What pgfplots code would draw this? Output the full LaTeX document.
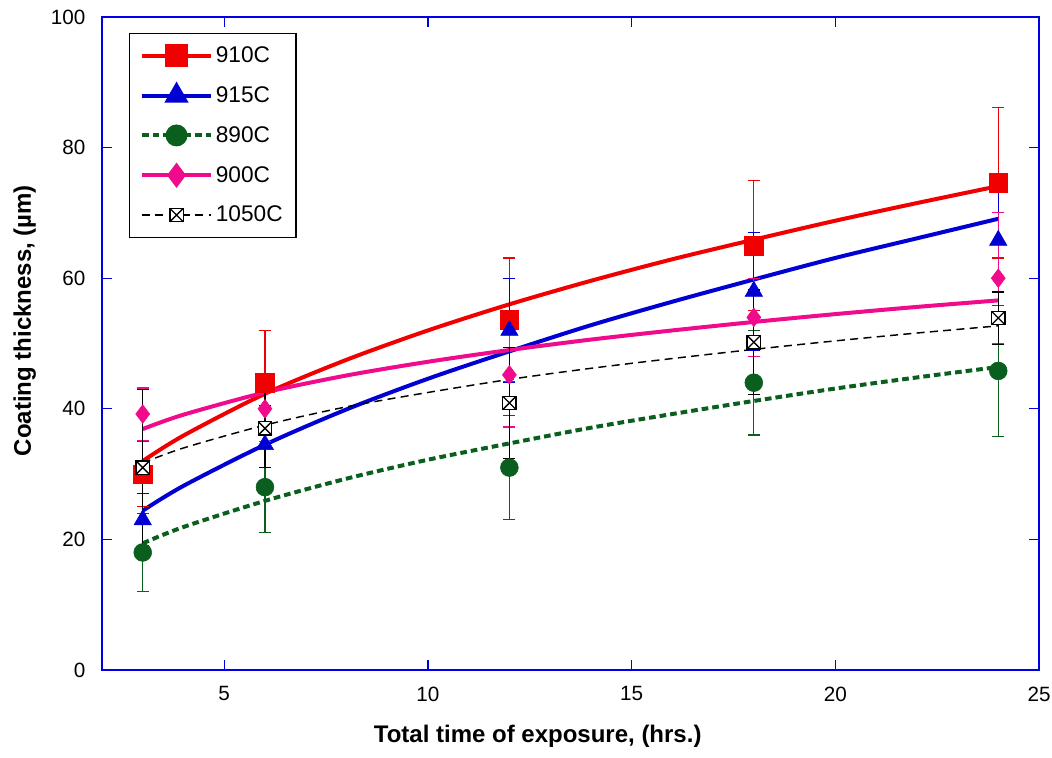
\documentclass[border=0pt]{standalone}
\usepackage{pgfplots}
\pgfplotsset{compat=1.18}
\usepackage{fontspec}
\setmainfont{Liberation Sans}
\definecolor{c910}{RGB}{240,0,0}
\definecolor{c915}{RGB}{0,0,210}
\definecolor{c890}{RGB}{10,95,30}
\definecolor{c900}{RGB}{240,10,140}
\definecolor{frameblue}{RGB}{0,0,230}

% square with a cross inside, for the 1050C series
\pgfdeclareplotmark{boxx}{%
  \pgfpathrectangle{\pgfqpoint{-\pgfplotmarksize}{-\pgfplotmarksize}}{\pgfqpoint{2\pgfplotmarksize}{2\pgfplotmarksize}}%
  \pgfusepathqfillstroke
  \pgfpathmoveto{\pgfqpoint{-\pgfplotmarksize}{-\pgfplotmarksize}}%
  \pgfpathlineto{\pgfqpoint{\pgfplotmarksize}{\pgfplotmarksize}}%
  \pgfpathmoveto{\pgfqpoint{-\pgfplotmarksize}{\pgfplotmarksize}}%
  \pgfpathlineto{\pgfqpoint{\pgfplotmarksize}{-\pgfplotmarksize}}%
  \pgfusepathqstroke}

\begin{document}
\begin{tikzpicture}
  \begin{axis}[
    scale only axis,
    width=702.75pt, height=489.75pt,
    xmin=2, xmax=25, ymin=0, ymax=100,
    xtick={5,10,15,20,25},
    ytick={0,20,40,60,80,100},
    tick align=inside,
    major tick length=7.5pt,
    tick style={frameblue, line width=1pt},
    axis line style={frameblue, line width=1.5pt},
    /pgf/number format/assume math mode=true,
    tick label style={font=\fontsize{15.5}{18}\selectfont},
    xticklabel style={yshift=-9pt},
    yticklabel style={xshift=-9pt},
    xlabel={Total time of exposure, (hrs.)},
    ylabel={Coating thickness, (µm)},
    every axis x label/.style={at={(axis description cs:0.465,0)}, anchor=center,
      yshift=-49.5pt, font=\fontsize{18}{21}\selectfont\bfseries},
    every axis y label/.style={at={(axis description cs:0,0.535)}, anchor=center,
      rotate=90, yshift=58pt, font=\fontsize{18}{21}\selectfont\bfseries},
    legend style={at={(axis description cs:0,1)}, anchor=north west,
      xshift=20pt, yshift=-12pt, draw=black, line width=0.8pt,
      font=\fontsize{17}{19}\selectfont, inner xsep=8pt, inner ysep=8pt,
      row sep=12.5pt, /tikz/every even column/.append style={column sep=0pt}},
    legend cell align=left,
    legend image code/.code={\draw[mark repeat=2,mark phase=2,#1]
      plot coordinates {(0pt,0pt) (26pt,0pt) (52pt,0pt)};},
    error bars/y dir=both, error bars/y explicit,
    error bars/error mark=-,
  ]
    % trend curves read off the chart
    \addplot[c910, line width=3pt, smooth, forget plot] coordinates {
      (3,32.0)(4,35.9)(6,42.3)(8,47.5)(10,52.0)(12,56.0)(14,59.6)
      (16,62.9)(18,65.9)(20,68.8)(22,71.5)(24,74.1)};
    \addplot[c915, line width=3pt, smooth, forget plot] coordinates {
      (3,24.4)(4,28.2)(6,34.5)(8,39.9)(10,44.6)(12,48.8)(14,52.8)
      (16,56.4)(18,59.8)(20,63.1)(22,66.1)(24,69.1)};
    \addplot[c890, line width=3pt, dash pattern=on 5pt off 3pt, smooth, forget plot] coordinates {
      (3,19.4)(4,21.9)(6,25.9)(8,29.3)(10,32.2)(12,34.7)(14,37.1)
      (16,39.2)(18,41.2)(20,43.1)(22,44.8)(24,46.4)};
    \addplot[c900, line width=3pt, smooth, forget plot] coordinates {
      (3,36.9)(4,39.1)(6,42.5)(8,45.1)(10,47.2)(12,49.0)(14,50.6)
      (16,52.0)(18,53.3)(20,54.5)(22,55.6)(24,56.6)};
    \addplot[black, line width=1.1pt, dash pattern=on 6pt off 4pt, smooth, forget plot] coordinates {
      (3,31.7)(4,34.0)(6,37.5)(8,40.3)(10,42.5)(12,44.5)(14,46.2)
      (16,47.7)(18,49.1)(20,50.4)(22,51.6)(24,52.7)};

    % measured points with error bars
    \addplot[c910, only marks, mark=square*, mark size=7pt, forget plot,
      error bars/error bar style={line width=0.9pt},
      error bars/error mark options={rotate=90, mark size=4.5pt, line width=0.9pt}]
      coordinates {(3,30) +- (0,5) (6,44) +- (0,8) (12,53.6) +- (0,9.5)
                   (18,65) +- (0,10) (24,74.6) +- (0,11.5)};
    \addplot[c915, only marks, mark=triangle*, mark size=7.5pt, forget plot,
      error bars/error bar style={line width=0.9pt},
      error bars/error mark options={rotate=90, mark size=4.5pt, line width=0.9pt}]
      coordinates {(3,23) +- (0,4) (6,34.5) +- (0,6) (12,52) +- (0,8)
                   (18,58) +- (0,9) (24,65.8) +- (0,10)};
    \addplot[c890, only marks, mark=*, mark size=6.7pt, forget plot,
      error bars/error bar style={line width=0.9pt},
      error bars/error mark options={rotate=90, mark size=4.5pt, line width=0.9pt}]
      coordinates {(3,18) +- (0,6) (6,28) +- (0,7) (12,31) +- (0,8)
                   (18,44) +- (0,8) (24,45.8) +- (0,10)};
    \addplot[c900, only marks, mark=diamond*, mark size=7pt, forget plot,
      error bars/error bar style={line width=0.9pt},
      error bars/error mark options={rotate=90, mark size=4.5pt, line width=0.9pt}]
      coordinates {(3,39.2) +- (0,4) (6,40) +- (0,5) (12,45.2) +- (0,8)
                   (18,54) +- (0,6) (24,60) +- (0,10)};
    \addplot[black, only marks, mark=boxx, mark size=5pt, forget plot,
      mark options={fill=white, line width=1pt},
      error bars/error bar style={line width=0.9pt},
      error bars/error mark options={rotate=90, mark size=4.5pt, line width=0.9pt}]
      coordinates {(3,31) +- (0,12) (6,37) +- (0,6) (12,40.9) +- (0,8.5)
                   (18,50.2) +- (0,8) (24,53.9) +- (0,4)};

    \addlegendimage{c910, line width=3pt, mark=square*, mark size=7pt}
    \addlegendentry{910C}
    \addlegendimage{c915, line width=3pt, mark=triangle*, mark size=7.5pt}
    \addlegendentry{915C}
    \addlegendimage{c890, line width=3pt, dash pattern=on 5pt off 3pt, mark=*, mark size=6.7pt, mark options={solid}}
    \addlegendentry{890C}
    \addlegendimage{c900, line width=3pt, mark=diamond*, mark size=7pt}
    \addlegendentry{900C}
    \addlegendimage{black, line width=1.1pt, dash pattern=on 6pt off 4pt, mark=boxx, mark size=5pt, mark options={solid, fill=white, line width=1pt}}
    \addlegendentry{1050C}
  \end{axis}
  \pgfresetboundingbox
  \path[use as bounding box] (-76.5pt,-65.25pt) rectangle (712.5pt,502.5pt);
\end{tikzpicture}
\end{document}
